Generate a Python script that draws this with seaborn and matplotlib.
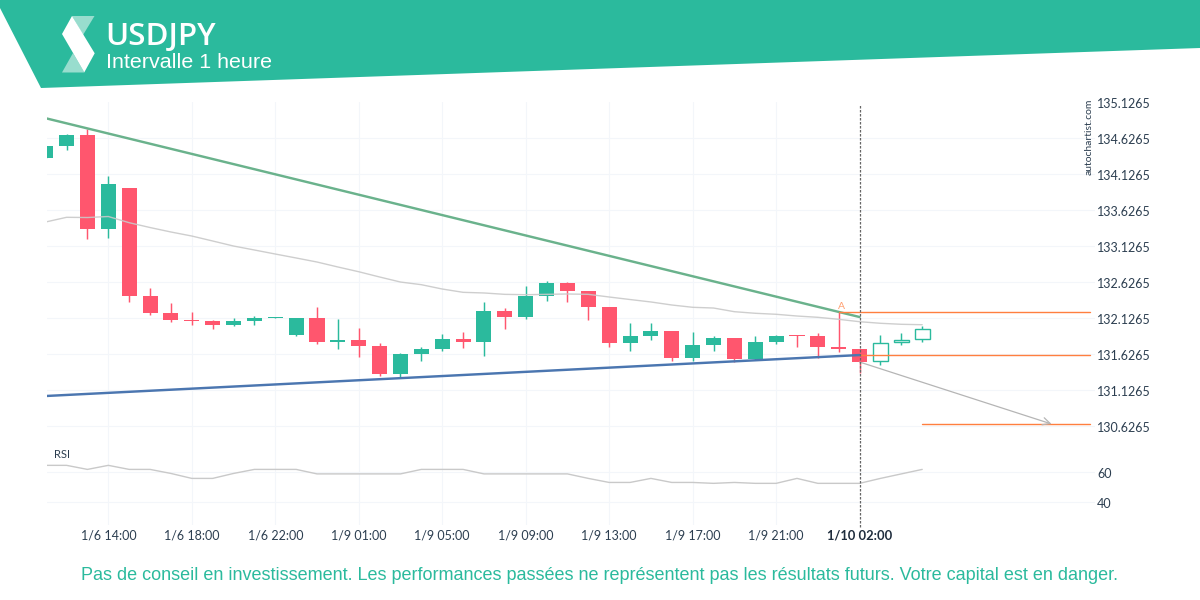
import matplotlib
matplotlib.use("Agg")
import matplotlib.pyplot as plt
from matplotlib.patches import Polygon
from matplotlib.transforms import ScaledTranslation
import numpy as np
import pandas as pd
import seaborn as sns

# ---- data ----
opens = [134.360,134.526,134.675,133.374,133.939,132.443,132.207,132.106,132.092,132.036,132.092,
         132.133,131.897,132.133,131.804,131.828,131.744,131.356,131.633,131.703,131.842,131.800,
         132.231,132.147,132.443,132.619,132.508,132.286,131.786,131.883,131.953,131.582,131.758,
         131.856,131.564,131.800,131.897,131.883,131.731,131.703,131.532,131.796,131.837]
closes = [134.522,134.675,133.374,133.994,132.443,132.207,132.110,132.092,132.036,132.092,132.133,
          132.147,132.133,131.804,131.828,131.744,131.356,131.633,131.703,131.842,131.800,132.231,
          132.147,132.439,132.619,132.508,132.286,131.786,131.883,131.953,131.582,131.758,131.856,
          131.564,131.800,131.883,131.883,131.731,131.703,131.522,131.782,131.824,131.976]
highs = [134.522,134.689,134.765,134.099,133.939,132.550,132.342,132.217,132.106,132.133,132.161,
         132.147,132.133,132.286,132.119,131.994,131.786,131.647,131.731,131.911,131.939,132.362,
         132.272,132.578,132.647,132.633,132.508,132.286,132.064,132.064,131.953,131.939,131.883,
         131.856,131.883,131.897,131.897,131.925,132.217,131.703,131.897,131.925,132.022]
lows = [134.360,134.460,133.224,133.251,132.356,132.182,132.071,132.036,131.987,132.022,132.043,
        132.133,131.883,131.779,131.703,131.585,131.328,131.314,131.536,131.675,131.710,131.612,
        131.987,132.126,132.369,132.362,132.112,131.724,131.682,131.821,131.536,131.536,131.675,
        131.529,131.550,131.772,131.731,131.578,131.661,131.369,131.481,131.758,131.800]
avg_line = [133.467,133.532,133.529,133.543,133.457,133.390,133.328,133.272,133.203,133.133,133.078,
            133.022,132.967,132.911,132.842,132.776,132.703,132.633,132.596,132.536,132.490,132.481,
            132.462,132.457,132.462,132.467,132.462,132.425,132.390,132.356,132.314,132.282,132.272,
            132.221,132.199,132.185,132.161,132.143,132.115,132.082,132.060,132.046,132.040]
rsi = [64.7,64.7,62,64.7,62,62,59.3,56,56,59.3,62,62,62,59,59,59,59,59,62,62,62,59,59,59,59,59,56,
       53.3,53.3,56,53.3,53.3,52.7,53.3,52.7,52.7,56,52.7,52.7,52.7,56,59,62]
trend_idx = [0, 39]
upper_trend = [134.908, 132.147]
lower_trend = [131.050, 131.619]
level_end = 50.04
level_a = [38, 132.211]
level_b = [39, 131.614]
level_c = [42, 130.657]
forecast_start = [39, 131.522]
forecast_end = [48.2, 130.661]
price_ticks = [135.1265,134.6265,134.1265,133.6265,133.1265,132.6265,132.1265,131.6265,131.1265,130.6265]
rsi_ticks = [60, 40]
time_idx = [3, 7, 11, 15, 19, 23, 27, 31, 35, 39]
time_labels = ["1/6 14:00","1/6 18:00","1/6 22:00","1/9 01:00","1/9 05:00",
               "1/9 09:00","1/9 13:00","1/9 17:00","1/9 21:00","1/10 02:00"]
n_closed = 40

# ---- style ----
TEAL = "#2BBA9D"; RED = "#FF566E"; GRID = "#F3F6FA"; INK = "#2C3E50"; ORANGE = "#FF7F3F"
sns.set_theme(style="white")
plt.rcParams["font.family"] = ["Lato", "DejaVu Sans"]

W, H = 1200, 600
fig = plt.figure(figsize=(12, 6), dpi=100, facecolor="white")
def box(l, t, r, b):
    return [l / W, 1 - b / H, (r - l) / W, (b - t) / H]

ax = fig.add_axes(box(47, 102, 1095, 440))
ax2 = fig.add_axes(box(47, 440, 1095, 525))
xlim = (0.062, 50.28)

df = pd.DataFrame({"i": range(len(opens)), "o": opens, "c": closes, "h": highs, "l": lows,
                   "ma": avg_line, "rsi": rsi})
df["top"] = df[["o", "c"]].max(axis=1)
df["bot"] = df[["o", "c"]].min(axis=1)
df["up"] = df["c"] >= df["o"]

# candles
for r in df.itertuples():
    col = TEAL if r.up else RED
    hollow = r.i >= n_closed
    ax.vlines(r.i, r.l, r.h, color=col, lw=1.05, zorder=3)
    ax.bar(r.i, max(r.top - r.bot, 0.012), bottom=r.bot, width=0.70 if hollow else 0.72,
           facecolor="white" if hollow else col, edgecolor=col if hollow else "none",
           linewidth=1.0 if hollow else 0, zorder=4)

sns.lineplot(data=df, x="i", y="ma", ax=ax, color="#C9C9C9", lw=1.0, alpha=0.9, zorder=5)
sns.lineplot(x=trend_idx, y=upper_trend, ax=ax, color="#6AB28C", lw=1.75, zorder=6)
sns.lineplot(x=trend_idx, y=lower_trend, ax=ax, color="#4B76B0", lw=1.75, zorder=6)
for lv in (level_a, level_b, level_c):
    sns.lineplot(x=[lv[0], level_end], y=[lv[1], lv[1]], ax=ax, color=ORANGE, lw=1.0, zorder=7)
ax.annotate("", xy=forecast_end, xytext=forecast_start, zorder=7,
            arrowprops=dict(arrowstyle="->,head_length=0.45,head_width=0.22", color="#B5B5B5", lw=0.9,
                            shrinkA=0, shrinkB=0))
ax.text(37.95, 132.211 + 0.02, "A", color=ORANGE, alpha=0.75, fontsize=7.5, ha="left", va="bottom", zorder=8)

ax.set_xlim(xlim)
ax.set_ylim(136.5501 - 440 / 72, 136.5501 - 102 / 72)
ax.set_xlabel(""); ax.set_ylabel("")

sns.lineplot(data=df, x="i", y="rsi", ax=ax2, color="#C9C9C9", lw=1.0, zorder=5)
ax2.set_xlim(xlim)
ax2.set_ylim(60 + (472.4 - 525) / 1.5, 60 + (472.4 - 440) / 1.5)
ax2.set_xlabel(""); ax2.set_ylabel("")
ax2.text(0.4, 72.0, "RSI", color=INK, fontsize=8, ha="left", va="center")

# vertical marker
ax.axvline(39, ymin=0, ymax=0.994, color="#666666", lw=0.9, ls=(0, (2, 1.2)), zorder=9)
ax2.axvline(39, ymin=-0.02, ymax=1, color="#666666", lw=0.9, ls=(0, (2, 1.2)), zorder=9, clip_on=False)

# axes furniture
for a in (ax, ax2):
    for s in a.spines.values():
        s.set_visible(False)
    a.yaxis.tick_right()
    a.grid(True, color=GRID, lw=0.8, zorder=0)
    a.set_axisbelow(True)
    a.set_xticks(time_idx)
    a.tick_params(axis="both", length=0, pad=1.5)

ax.set_yticks(price_ticks)
ax.set_yticklabels([f"{v:.4f}" for v in price_ticks], fontsize=9.0, color=INK)
ax.yaxis.get_major_ticks()[0].gridline.set_visible(False)
ax.set_xticklabels([])
ax.xaxis.get_major_ticks()[-1].gridline.set_visible(False)

ax2.set_yticks(rsi_ticks)
ax2.set_yticklabels([str(v) for v in rsi_ticks], fontsize=9.0, color=INK)
ax2.set_xticklabels(time_labels, fontsize=9.0, color=INK)
ax2.xaxis.get_major_ticks()[-1].gridline.set_visible(False)
ax2.tick_params(axis="x", pad=3.6)
last = ax2.get_xticklabels()[-1]
last.set_fontsize(9.3)
last.set_color("#1F2D3D")
last.set_fontweight("bold")

offset = ScaledTranslation(0, -0.6 / 72 * 0.72, fig.dpi_scale_trans)
for a in (ax, ax2):
    for lab in a.get_yticklabels():
        lab.set_transform(lab.get_transform() + offset)

# header, logo and captions on a pixel-scale overlay
ov = fig.add_axes([0, 0, 1, 1], zorder=20)
ov.set_xlim(0, W); ov.set_ylim(H, 0); ov.axis("off"); ov.patch.set_alpha(0)
ov.add_patch(Polygon([(0, 0), (1200, 0), (1200, 48), (41, 88), (0, 8)], closed=True, fc=TEAL, ec="none"))
ov.add_patch(Polygon([(72, 16), (94.5, 16), (83, 35)], closed=True, fc="#98DDCE", ec="none"))
ov.add_patch(Polygon([(62, 72.5), (84.5, 72.5), (73, 53)], closed=True, fc="#98DDCE", ec="none"))
ov.add_patch(Polygon([(72, 16), (94.7, 53.3), (84.3, 72.3), (62, 34)], closed=True, fc="white", ec="none"))
ov.text(105, 37, "USDJPY", color="white", fontsize=22.5, family="Open Sans", fontweight="semibold", ha="left", va="center")
ov.text(105.5, 62, "Intervalle 1 heure", color="white", fontsize=15.45, family="Liberation Sans", ha="left", va="center")
ov.text(599.5, 575.5, "Pas de conseil en investissement. Les performances passées ne représentent pas les résultats futurs. Votre capital est en danger.",
        color=TEAL, fontsize=13, family="Liberation Sans", ha="center", va="center")
ov.text(1089.3, 136.5, "autochartist.com", color=INK, fontsize=7.5, rotation=90, ha="center", va="center")

fig.savefig("out.png", dpi=100)
